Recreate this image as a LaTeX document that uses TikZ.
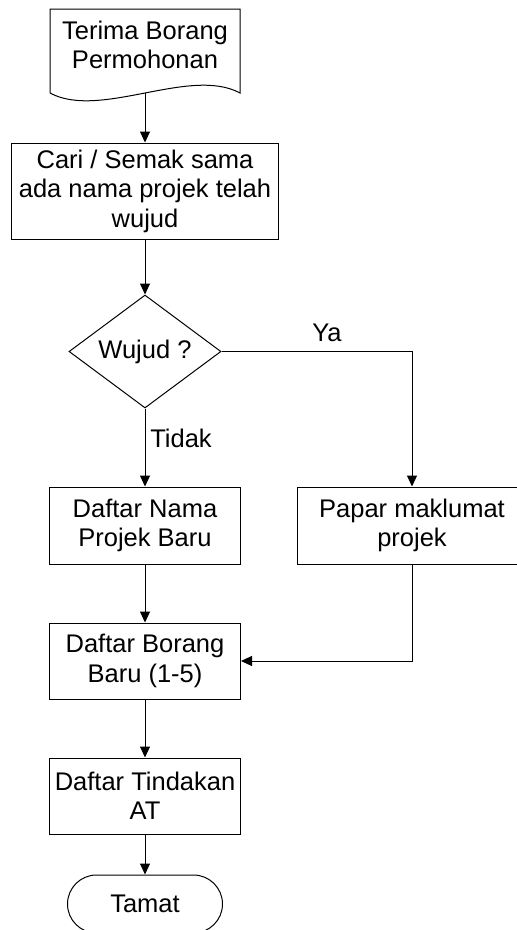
\documentclass[tikz,border=0pt]{standalone}
\usepackage{fontspec}
\setmainfont{Liberation Sans}
\usetikzlibrary{shapes.geometric,arrows.meta}
\begin{document}
\begin{tikzpicture}[x=1pt,y=-1pt,
  every node/.style={font=\fontsize{25.5}{29.5}\selectfont, align=center, inner sep=0pt},
  box/.style={draw, line width=1pt, rectangle},
  flow/.style={line width=1pt, -{Triangle[length=11pt,width=10pt]}},
  plain/.style={line width=1pt}]
\clip (0,0) rectangle (517,930);
\fill[white] (0,0) rectangle (517,930);
% document shape
\draw[line width=1pt] (50,93) -- (50,9) -- (240,9) -- (240,93)
  .. controls (190,66) and (100,120) .. (50,93);
\node (doc) at (145,45) {Terima Borang\\Permohonan};
\coordinate (docb) at (145,93);
\node[box, minimum width=267pt, minimum height=96pt] (cari) at (145,191) {Cari / Semak sama\\ada nama projek telah\\wujud};
\node[diamond, draw, line width=1pt, minimum width=152pt, minimum height=113pt, aspect=1.345] (wujud) at (145,351.5) {Wujud ?};
\node[box, minimum width=191pt, minimum height=77pt] (nama) at (145,525.5) {Daftar Nama\\Projek Baru};
\node[box, minimum width=230pt, minimum height=77pt] (papar) at (412,525.5) {Papar maklumat\\projek};
\node[box, minimum width=191pt, minimum height=76pt] (borang) at (145,661) {Daftar Borang\\Baru (1-5)};
\node[box, minimum width=191pt, minimum height=76pt] (tindakan) at (145,796) {Daftar Tindakan\\AT};
\node[draw, line width=1pt, rectangle, rounded corners=29pt, minimum width=155pt, minimum height=58pt] (tamat) at (145,904) {Tamat};
\node (ya) at (327,333) {Ya};
\node (tidak) at (181,438) {Tidak};
\draw[flow] (docb) -- (cari.north);
\draw[flow] (cari.south) -- (wujud.north);
\draw[flow] (wujud.south) -- (nama.north);
\draw[flow] (wujud.east) -| (papar.north);
\draw[flow] (nama.south) -- (borang.north);
\draw[flow] (papar.south) |- (borang.east);
\draw[flow] (borang.south) -- (tindakan.north);
\draw[flow] (tindakan.south) -- (tamat.north);
\end{tikzpicture}
\end{document}
